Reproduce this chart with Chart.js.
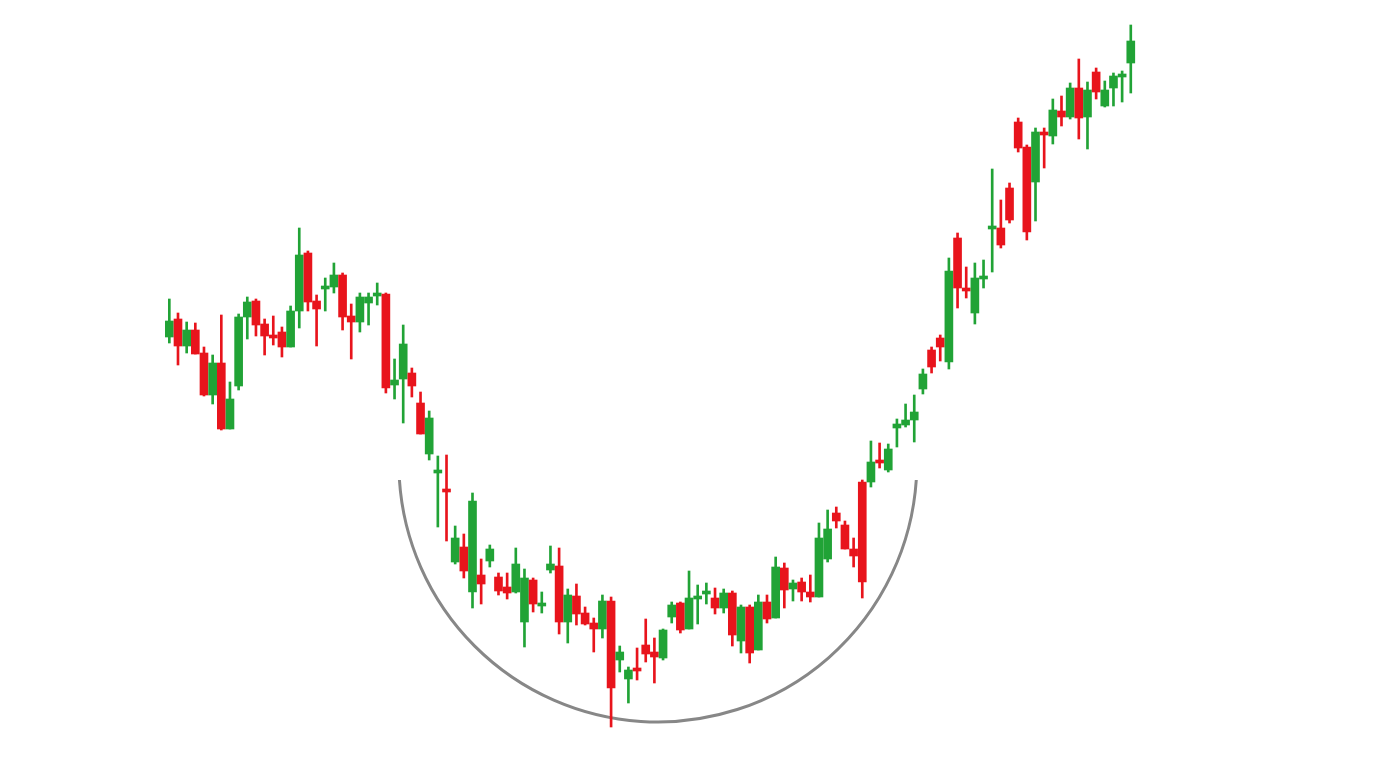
<!DOCTYPE html>
<html>
<head>
<meta charset="utf-8">
<title>Rounding bottom</title>
<script src="https://cdn.jsdelivr.net/npm/chart.js@4.4.0/dist/chart.umd.min.js"></script>
<style>
    html, body { margin: 0; padding: 0; background: #ffffff; }
    #wrap { width: 1376px; height: 768px; position: relative; }
</style>
</head>
<body>
<div id="wrap"><canvas id="candles"></canvas></div>
<script>
const opens = [
    463, 481, 454, 470, 447, 405, 437, 371, 414, 483,
    499, 476, 465, 468, 453, 489, 547, 499, 511, 513,
    525, 484, 478, 497, 504, 506, 415, 421, 427, 397,
    346, 327, 310, 238, 253, 208, 225, 239, 223, 213,
    208, 178, 220, 194, 230, 234, 178, 204, 187, 177,
    171, 199, 140, 121, 131, 155, 148, 142, 183, 197,
    171, 201, 206, 202, 192, 207, 159, 193, 150, 198,
    182, 232, 211, 218, 208, 203, 241, 287, 275, 251,
    318, 318, 340, 330, 372, 375, 380, 411, 450, 462,
    438, 562, 512, 487, 521, 571, 572, 612, 678, 653,
    618, 668, 664, 689, 683, 712, 683, 728, 694, 712,
    723, 737
];
const highs = [
    501, 487, 478, 477, 453, 445, 485, 418, 486, 503,
    501, 481, 484, 473, 494, 572, 549, 505, 522, 537,
    527, 496, 507, 507, 517, 507, 441, 475, 432, 408,
    389, 344, 345, 274, 266, 307, 241, 255, 227, 227,
    252, 231, 222, 208, 254, 252, 211, 216, 193, 182,
    205, 203, 154, 133, 152, 181, 162, 171, 198, 198,
    229, 215, 217, 212, 211, 209, 195, 195, 205, 205,
    243, 237, 220, 222, 225, 277, 290, 293, 279, 262,
    320, 359, 357, 356, 381, 396, 405, 431, 453, 465,
    542, 567, 533, 537, 540, 631, 600, 617, 682, 655,
    672, 672, 701, 704, 717, 741, 718, 732, 719, 727,
    729, 775
];
const lows = [
    457, 435, 447, 446, 404, 396, 370, 371, 410, 461,
    464, 445, 455, 443, 453, 472, 489, 454, 489, 507,
    470, 441, 468, 475, 495, 407, 401, 377, 403, 366,
    340, 273, 259, 236, 222, 192, 196, 233, 205, 201,
    207, 153, 188, 187, 227, 166, 157, 175, 175, 148,
    162, 73, 128, 97, 120, 138, 117, 140, 177, 167,
    171, 176, 196, 186, 187, 154, 147, 137, 150, 177,
    182, 192, 199, 199, 198, 203, 238, 272, 251, 233,
    202, 313, 332, 328, 353, 373, 358, 406, 427, 439,
    431, 492, 502, 476, 512, 528, 552, 577, 648, 560,
    579, 632, 656, 674, 681, 661, 651, 701, 693, 694,
    698, 707
];
const closes = [
    479, 454, 470, 446, 405, 437, 371, 401, 483, 498,
    475, 464, 462, 453, 489, 545, 498, 491, 513, 525,
    483, 478, 503, 503, 506, 412, 420, 456, 414, 366,
    382, 329, 308, 262, 229, 299, 216, 251, 209, 207,
    236, 222, 196, 196, 236, 178, 205, 186, 176, 171,
    199, 112, 148, 130, 129, 146, 143, 170, 195, 170,
    202, 204, 209, 192, 207, 165, 193, 147, 198, 181,
    233, 210, 217, 208, 203, 262, 271, 279, 251, 244,
    218, 338, 337, 351, 376, 380, 388, 426, 433, 453,
    529, 512, 509, 522, 522, 572, 555, 580, 652, 568,
    668, 665, 690, 683, 712, 682, 710, 708, 710, 724,
    725, 759
];
const days = opens.map((_, i) => i);

// the rounding-bottom guide, in chart units
const arcCenter = { day: 56.4, price: 337 };
const arcRadiusDays = 29.9;
const arcRimPrice = 320;

const UP = '#21a336';
const DOWN = '#e8141c';

function candleColors(){
    return days.map(i => closes[i] >= opens[i] ? UP : DOWN);
}

const roundingBottom = {
    id: 'roundingBottom',
    beforeDatasetsDraw(chart){
        const xs = chart.scales.x, ys = chart.scales.y;
        const cx = xs.getPixelForValue(arcCenter.day);
        const cy = ys.getPixelForValue(arcCenter.price);
        const r = xs.getPixelForValue(arcCenter.day + arcRadiusDays) - cx;
        const a = Math.asin((ys.getPixelForValue(arcRimPrice) - cy) / r);
        const ctx = chart.ctx;
        ctx.save();
        ctx.strokeStyle = '#878787';
        ctx.lineWidth = 3;
        ctx.beginPath();
        ctx.arc(cx, cy, r, a, Math.PI - a);
        ctx.stroke();
        ctx.restore();
    }
};

window.onload = () => {
    const colors = candleColors();
    new Chart(document.getElementById('candles').getContext('2d'), {
        type: 'bar',
        data: {
            datasets: [{
                label: 'wick',
                data: days.map(i => ({ x: i, y: [lows[i], highs[i]] })),
                backgroundColor: colors,
                barThickness: 2,
                grouped: false,
                order: 2
            }, {
                label: 'body',
                data: days.map(i => ({ x: i, y: [opens[i], closes[i]] })),
                backgroundColor: colors,
                barThickness: 8,
                minBarLength: 3,
                grouped: false,
                order: 1
            }]
        },
        options: {
            responsive: true,
            maintainAspectRatio: false,
            animation: false,
            layout: { padding: 0 },
            plugins: {
                legend: { display: false },
                tooltip: { enabled: false }
            },
            scales: {
                x: { type: 'linear', display: false, offset: false, min: -19.55, max: 139.31 },
                y: { type: 'linear', display: false, min: 32, max: 800 }
            }
        },
        plugins: [roundingBottom]
    });
};
</script>
</body>
</html>
